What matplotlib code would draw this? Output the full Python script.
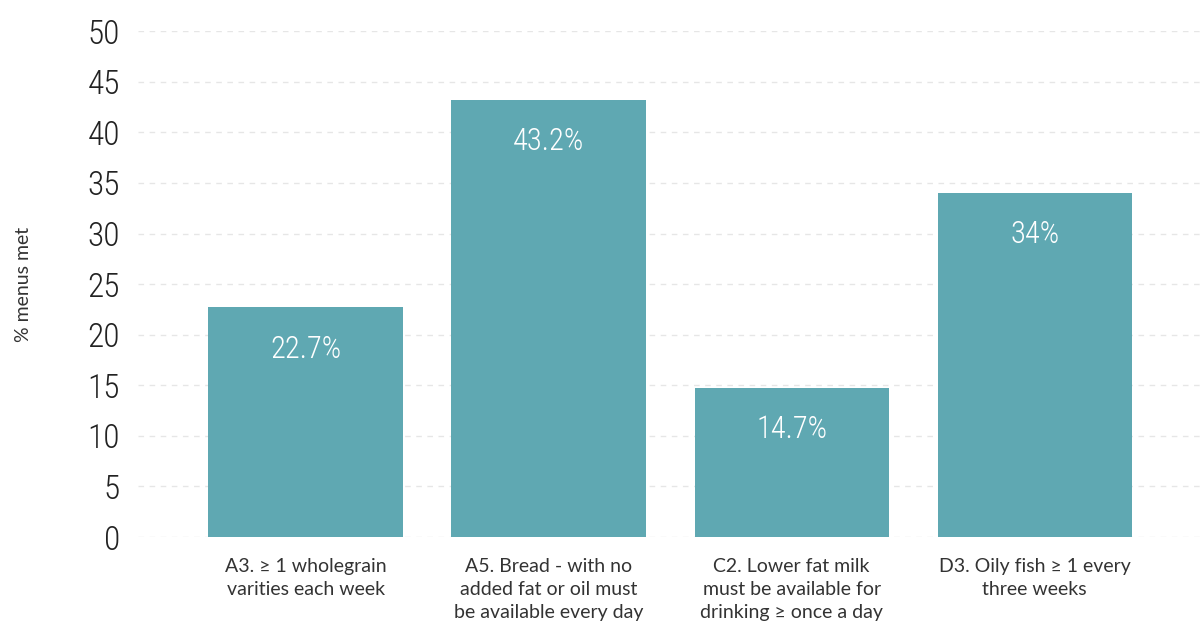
import matplotlib
matplotlib.use("Agg")
import matplotlib.pyplot as plt

categories = [
    "A3. \u2265 1 wholegrain\nvarities each week",
    "A5. Bread - with no\nadded fat or oil must\nbe available every day",
    "C2. Lower fat milk\nmust be available for\ndrinking \u2265 once a day",
    "D3. Oily fish \u2265 1 every\nthree weeks",
]
values = [22.7, 43.2, 14.7, 34.0]
value_labels = ["22.7%", "43.2%", "14.7%", "34%"]
y_ticks = [0, 5, 10, 15, 20, 25, 30, 35, 40, 45, 50]

bar_color = "#5fa8b2"
narrow = ["Roboto Condensed", "Open Sans Condensed", "DejaVu Sans"]
body = ["Lato", "DejaVu Sans"]

fig = plt.figure(figsize=(12, 6.23), dpi=100)
ax = fig.add_axes([0.115, 0.138, 0.885, 0.812])

x = list(range(len(values)))
bars = ax.bar(x, values, width=0.8, color=bar_color, zorder=2)

ax.set_xlim(-0.69, 3.68)
ax.set_ylim(0, 50)
ax.set_yticks(y_ticks)
ax.set_yticklabels([str(t) for t in y_ticks], family=narrow, fontsize=24,
                   fontweight="light", color="#222222")
ax.set_xticks(x)
ax.set_xticklabels(categories, family=body, fontsize=14, color="#333333", linespacing=1.45)
ax.tick_params(axis="y", length=0, pad=13)
ax.tick_params(axis="x", length=0, pad=15)

ax.grid(axis="y", color="#e6e6e6", linestyle=(0, (4, 4)), linewidth=1, zorder=0)
for s in ax.spines.values():
    s.set_visible(False)

ax.set_ylabel("% menus met", family=body, fontsize=14, color="#333333")
ax.yaxis.set_label_coords(-0.1, 0.5)

for rect, lab in zip(bars, value_labels):
    ax.annotate(lab, (rect.get_x() + rect.get_width() / 2, rect.get_height()),
                xytext=(0, -30), textcoords="offset points", ha="center", va="center",
                family=narrow, fontsize=22, fontweight="light", color="white")

fig.savefig("out.png", dpi=100)
